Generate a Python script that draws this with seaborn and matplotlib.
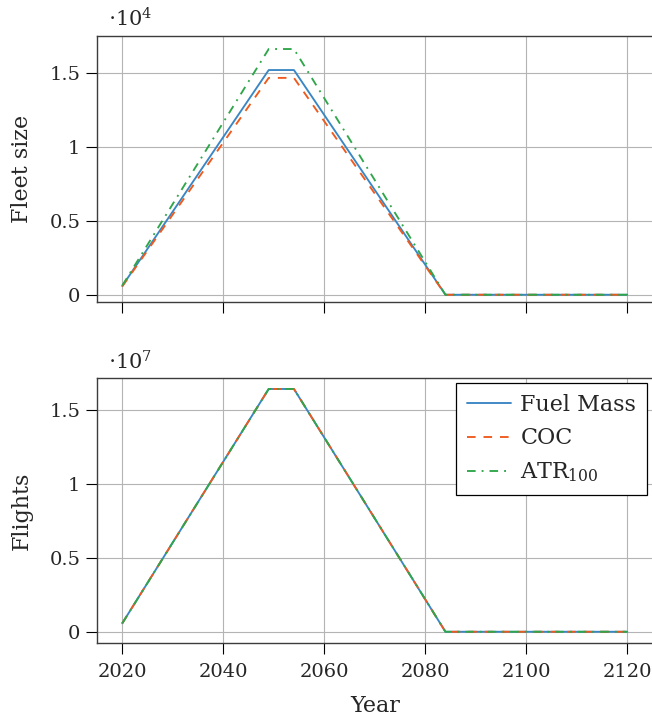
import matplotlib
matplotlib.use("Agg")
import matplotlib.pyplot as plt
import matplotlib.ticker as mticker
import numpy as np
import pandas as pd
import seaborn as sns

# ---- data ----
years = [2020, 2049, 2054, 2084, 2120]
methods = ["Fuel Mass", "COC", "ATR$_{100}$"]
fleet_fuel = [590, 15180, 15180, 0, 0]
fleet_coc = [560, 14650, 14650, 0, 0]
fleet_atr = [620, 16600, 16600, 0, 0]
flights_fuel = [570000, 16400000, 16400000, 0, 0]
flights_coc = [570000, 16400000, 16400000, 0, 0]
flights_atr = [570000, 16400000, 16400000, 0, 0]
xticks = [2020, 2040, 2060, 2080, 2100, 2120]
fleet_ticks = [0, 5000, 10000, 15000]
flights_ticks = [0, 5e6, 1e7, 1.5e7]

colors = {"Fuel Mass": "#3a86c4", "COC": "#ee5a1d", "ATR$_{100}$": "#2fa64a"}
dashes = {"Fuel Mass": "", "COC": (4.6, 4.2), "ATR$_{100}$": (4.6, 3.2, 1.0, 3.2)}

rows = []
for m, fv, flv in zip(methods, [fleet_fuel, fleet_coc, fleet_atr],
                      [flights_fuel, flights_coc, flights_atr]):
    for y, a, b in zip(years, fv, flv):
        rows.append({"Year": y, "Method": m, "Fleet": a, "Flights": b})
df = pd.DataFrame(rows)

sns.set_style("ticks")
plt.rcParams["font.family"] = ["DejaVu Serif"]
plt.rcParams["mathtext.fontset"] = "dejavuserif"
plt.rcParams["font.size"] = 16
plt.rcParams["lines.scale_dashes"] = True

LABEL_FS = 16
TICK_FS = 14

fig = plt.figure(figsize=(6.52, 7.2), dpi=100)
W, H = 652.0, 720.0
left = 97 / W
width = (652.5 - 97) / W
ax1 = fig.add_axes([left, 1 - 302 / H, width, (302 - 35.7) / H])
ax2 = fig.add_axes([left, 1 - 643.3 / H, width, (643.3 - 378.3) / H])

for ax, col, ticks, scale, ylim, label, exp in [
    (ax1, "Fleet", fleet_ticks, 1e4, (-490, 17500), "Fleet size", 4),
    (ax2, "Flights", flights_ticks, 1e7, (-0.078e7, 1.712e7), "Flights", 7),
]:
    sns.lineplot(data=df, x="Year", y=col, hue="Method", style="Method",
                 palette=colors, dashes=dashes, hue_order=methods,
                 style_order=methods, linewidth=1.35, ax=ax,
                 legend=(ax is ax2), zorder=3)
    ax.set_xlim(2015, 2125)
    ax.set_ylim(*ylim)
    ax.set_xticks(xticks)
    ax.set_yticks(ticks)
    ax.yaxis.set_major_formatter(
        mticker.FuncFormatter(lambda v, p, s=scale: f"{v / s:g}"))
    ax.grid(True, color="#b4b4b4", linewidth=0.8)
    ax.set_axisbelow(True)
    for s in ["top", "left", "bottom", "right"]:
        ax.spines[s].set_color("#3c3c3c")
        ax.spines[s].set_linewidth(1.0)
    ax.tick_params(axis="both", direction="out", length=8, width=0.8,
                   color="black", labelsize=TICK_FS)
    ax.tick_params(axis="y", pad=4)
    ax.tick_params(axis="x", pad=6)
    ax.set_ylabel(label, fontsize=LABEL_FS)
    ax.yaxis.set_label_coords(-0.115, 0.5)
    ax.text(0.02, 1.034, r"$\cdot10^{%d}$" % exp, transform=ax.transAxes,
            ha="left", va="baseline", fontsize=15)

ax1.set_xlabel("")
ax1.tick_params(axis="x", labelbottom=False)
ax2.set_xlabel("Year", fontsize=LABEL_FS, labelpad=10)

leg = ax2.get_legend()
handles = leg.legend_handles
labels = [t.get_text() for t in leg.get_texts()]
leg.remove()
newleg = ax2.legend(handles, labels, loc="upper left",
                    bbox_to_anchor=(0.646, 0.982), borderaxespad=0,
                    frameon=True, fancybox=False, edgecolor="black",
                    framealpha=1, fontsize=LABEL_FS, handlelength=2.0,
                    handletextpad=0.4, labelspacing=0.5, borderpad=0.5)
newleg.get_frame().set_linewidth(0.9)

fig.savefig("out.png", dpi=100)
